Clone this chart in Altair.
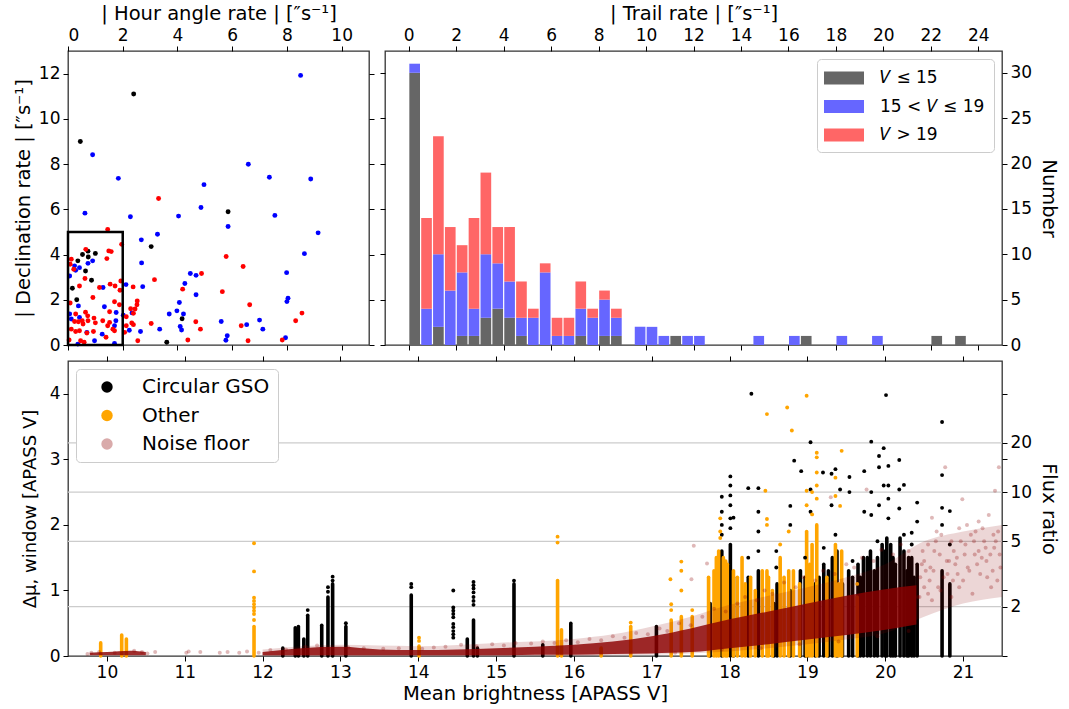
import math
import altair as alt
import pandas as pd

FONT = "DejaVu Sans"
FS = 17
TFS = 19.5

# ---------------- top-left: hour-angle rate vs declination rate ----------------
black_ha = [2.4, 0.45, 5.85, 3.04, 4.17, 3.61, 0.53, 0.73, 1.0, 0.36, 0.74, 0.64, 0.86, 0.16, 0.32]
black_dec = [11.1, 9.0, 5.89, 4.35, 1.16, 0.12, 4.0, 4.15, 4.05, 3.72, 3.89, 3.27, 2.86, 2.51, 2.0]

blue_ha = [8.5, 0.9, 1.84, 6.59, 7.36, 8.87, 4.97, 0.62, 2.28, 4.04, 4.86, 7.56, 5.85, 9.14, 3.27, 2.68,
           8.64, 2.69, 4.47, 4.68, 7.99, 4.27, 2.73, 2.12, 4.68, 4.07, 8.04, 8.0, 3.70, 3.98, 4.22, 2.34,
           2.02, 4.10, 4.15, 3.35, 2.24, 2.65, 5.6, 6.53, 7.0, 7.12, 5.82, 5.77, 7.95, 0.06, 0.24, 0.42,
           0.28, 0.9, 0.73, 0.38, 1.28, 1.33, 1.76, 1.75, 1.70, 1.25, 0.97, 0.06, 0.12, 0.42, 0.69, 1.70, 0.36]
blue_dec = [11.92, 8.41, 7.37, 7.99, 7.42, 7.34, 7.09, 5.83, 5.67, 5.70, 6.08, 5.73, 5.24, 4.96, 4.90, 4.65,
            4.04, 3.63, 3.16, 3.08, 3.20, 2.72, 2.58, 2.67, 2.22, 1.88, 2.07, 1.92, 1.37, 1.51, 1.37, 1.42,
            1.32, 0.82, 0.66, 0.70, 0.65, 0.60, 1.04, 0.90, 1.10, 0.70, 0.41, 0.21, 0.32, 3.05, 3.5, 3.42,
            3.3, 3.72, 3.61, 1.73, 2.54, 1.69, 1.44, 1.07, 0.85, 0.48, 0.19, 1.37, 1.15, 1.22, 0.56, 0.07, 0.04]

red_ha = [3.31, 1.45, 1.96, 0.65, 1.49, 1.58, 1.42, 0.12, 0.08, 0.21, 0.62, 0.42, 1.15, 1.54, 1.72, 1.90,
          1.93, 0.91, 0.08, 1.70, 1.88, 1.52, 0.64, 0.72, 0.95, 0.28, 0.52, 0.24, 0.38, 0.55, 0.73, 1.0,
          1.27, 1.52, 1.70, 0.12, 0.28, 0.42, 0.69, 0.93, 1.45, 1.64, 0.46, 0.59, 0.04, 1.39,
          3.16, 2.38, 2.29, 2.45, 2.39, 2.53, 2.52, 2.13, 2.13, 2.07, 2.33, 2.39, 3.04, 2.55, 4.38, 4.67,
          4.84, 4.88, 4.19, 5.64, 5.78, 6.4, 6.64, 6.33, 6.58, 7.83, 8.32, 8.55]
red_dec = [6.48, 5.11, 4.45, 4.23, 4.16, 4.13, 3.82, 3.79, 3.57, 3.35, 2.94, 2.61, 2.54, 2.69, 2.61, 2.42,
           2.83, 2.1, 1.86, 1.91, 1.78, 1.47, 1.45, 1.29, 1.19, 1.37, 1.07, 1.04, 1.03, 0.93, 1.07, 0.98,
           1.07, 1.0, 0.63, 0.7, 0.6, 0.63, 0.53, 0.6, 0.85, 0.7, 0.19, 0.12, 0.22, 0.34,
           2.89, 2.57, 1.60, 1.59, 1.40, 1.95, 1.78, 1.25, 0.85, 0.56, 0.97, 0.90, 0.95, 0.19, 0.22, 1.03,
           0.70, 3.16, 2.47, 2.36, 3.91, 3.47, 1.78, 0.85, 0.19, 0.22, 1.07, 1.41]

box_x = [0.0, 2.0]
box_y = [0.0, 5.0]

# ---------------- top-right: stacked histogram of trail rate ----------------
bin_width = 0.5
cnt_bright = [30, 0, 2, 0, 1, 1, 3, 4, 3, 1, 0, 0, 0, 0, 1, 0, 1, 1, 0, 0, 0, 0, 1, 0, 0,
              0, 0, 0, 0, 0, 0, 0, 0, 1, 0, 0, 0, 0, 0, 0, 0, 0, 0, 0, 1, 0, 1, 0, 0, 0]
cnt_mid = [1, 4, 8, 6, 7, 3, 7, 5, 4, 2, 3, 8, 1, 1, 3, 3, 4, 2, 0, 2, 2, 1, 0, 1, 1,
           0, 0, 0, 0, 1, 0, 0, 1, 0, 0, 0, 1, 0, 0, 1, 0, 0, 0, 0, 0, 0, 0, 0, 0, 0]
cnt_faint = [0, 10, 13, 7, 3, 10, 9, 4, 6, 4, 1, 1, 2, 2, 3, 1, 1, 1, 0, 0, 0, 0, 0, 0, 0,
             0, 0, 0, 0, 0, 0, 0, 0, 0, 0, 0, 0, 0, 0, 0, 0, 0, 0, 0, 0, 0, 0, 0, 0, 0]
hist_cats = ["𝑉 ≤ 15", "15 < 𝑉 ≤ 19", "𝑉 > 19"]
hist_colors = ["#666666", "#6666ff", "#ff6666"]

# ---------------- bottom: variability vs mean brightness ----------------
gso_col_x = [12.26, 12.42, 12.46, 12.53, 12.58, 12.76, 12.84, 12.9, 13.07, 13.91, 14.63, 14.71, 14.76, 15.23,
             15.6, 15.96, 17.06, 17.75, 17.9, 18.01, 18.05, 18.24, 18.37, 18.57, 18.61, 18.78, 18.91, 18.97,
             19.1, 19.21, 19.32, 19.38, 19.53, 19.58, 19.72, 19.81, 19.9, 19.96, 20.02, 20.07, 20.19, 20.24,
             20.34, 20.41, 20.73, 20.83,
             19.0, 19.15, 19.27, 19.45, 19.65, 19.68, 19.77, 19.86, 20.0, 20.1, 20.13, 20.28, 20.3, 20.37]
gso_col_top = [0.12, 0.43, 0.45, 0.26, 0.62, 0.47, 0.9, 1.1, 0.45, 0.93, 0.26, 0.55, 0.12, 1.1,
               0.17, 0.5, 0.45, 0.8, 1.6, 1.7, 1.2, 1.2, 1.3, 0.8, 1.1, 1.0, 1.3, 1.2,
               1.1, 1.4, 1.5, 1.6, 1.3, 1.2, 1.5, 1.6, 1.5, 1.7, 1.8, 1.7, 1.8, 1.6,
               1.5, 1.4, 1.3, 1.1,
               1.0, 1.2, 1.3, 1.1, 1.4, 1.2, 1.5, 1.3, 1.6, 1.5, 1.4, 1.3, 1.5, 1.2]
gso_pt_x = [14.45, 14.45, 14.45, 14.45, 14.45, 14.45, 14.45, 14.45, 14.45, 14.45,
            14.71, 14.71, 14.71, 14.71, 14.71, 14.71, 14.71, 12.58, 12.9, 12.9, 12.84, 12.84,
            13.91, 13.91, 13.07, 15.23, 17.9, 17.9, 17.9, 17.9, 18.01, 18.01, 18.01, 18.01, 18.01,
            18.01, 18.05, 18.24, 18.28, 18.37, 18.37, 18.37, 18.6, 18.78, 18.78, 18.83, 18.92,
            19.04, 19.04, 19.04, 19.2, 19.31, 19.31, 19.36, 19.42, 19.54, 19.54, 19.73, 19.73,
            19.82, 19.82, 19.82, 19.92, 19.92, 19.92, 19.98, 19.98, 20.01, 20.04, 20.04, 20.04,
            20.04, 20.18, 20.18, 20.18, 20.24, 20.34, 20.41, 20.41, 20.73, 20.73, 20.73, 20.73,
            20.83, 20.83, 18.24, 18.37, 18.6, 18.97, 19.21, 19.36, 19.58, 19.9, 20.24, 20.34]
gso_pt_y = [1.0, 0.74, 0.69, 0.64, 0.59, 0.49, 0.44, 0.38, 0.33, 0.28,
            1.13, 1.08, 1.03, 0.97, 0.9, 0.84, 0.78, 0.7, 1.21, 1.15, 1.05, 0.98,
            1.1, 1.05, 0.5, 1.15, 2.43, 2.2, 2.0, 1.85, 2.74, 2.6, 2.45, 2.3, 2.1, 1.95,
            2.11, 2.56, 4.0, 2.56, 2.2, 1.9, 1.6, 2.29, 2.0, 2.98, 2.82,
            3.26, 2.54, 2.2, 2.8, 2.78, 2.3, 2.85, 2.54, 2.73, 2.5, 2.82, 2.2,
            3.27, 2.5, 2.15, 2.88, 3.05, 2.3, 3.17, 2.6, 3.98, 2.9, 2.6, 2.4,
            2.1, 2.99, 2.54, 2.25, 2.61, 1.88, 2.34, 2.05, 3.57, 2.76, 2.26, 2.0,
            2.21, 1.7, 1.5, 1.6, 1.35, 1.5, 1.65, 1.85, 1.45, 1.75, 1.85, 1.7]

oth_col_x = [9.92, 10.19, 10.25, 11.89, 14.01, 15.79, 15.84, 16.35, 16.73, 17.25, 17.38, 17.52, 17.73,
             17.86, 17.92, 17.97, 18.05, 18.16, 18.27, 18.33, 18.42, 18.48, 18.5, 18.65, 18.7, 18.76, 18.82,
             18.9, 18.99, 19.06, 19.12, 19.25, 19.36, 19.44, 19.64,
             17.8, 17.83, 17.95, 18.1, 18.2, 18.55, 19.03, 19.4]
oth_col_top = [0.2, 0.32, 0.26, 0.45, 0.15, 1.15, 0.4, 0.12, 0.45, 0.55, 0.6, 0.6, 1.2,
               1.6, 1.5, 1.4, 1.3, 1.5, 1.2, 1.0, 1.3, 1.3, 1.2, 1.5, 1.2, 1.3, 1.3,
               1.1, 1.9, 1.7, 2.0, 1.2, 1.7, 1.6, 0.9,
               1.3, 1.5, 1.45, 1.2, 1.1, 1.0, 1.4, 1.1]
oth_pt_x = [11.89, 11.89, 11.89, 11.89, 11.89, 11.89, 11.89, 11.89, 11.89, 14.01, 14.01, 15.79, 15.79,
            16.73, 17.24, 17.25, 17.25, 17.38, 17.38, 17.38, 17.52, 17.88, 17.88, 17.88, 18.46, 18.48,
            18.48, 18.48, 18.74, 18.8, 18.99, 18.99, 18.99, 19.06, 19.06, 19.12, 19.12, 19.12, 19.12,
            19.12, 19.36, 19.36, 19.44, 19.42, 18.76, 18.65, 19.64]
oth_pt_y = [1.72, 1.29, 0.89, 0.84, 0.79, 0.74, 0.69, 0.64, 0.55, 0.28, 0.23, 1.82, 1.73,
            0.51, 1.17, 0.79, 0.7, 1.44, 1.3, 1.0, 0.7, 2.1, 1.9, 1.8, 2.52, 3.69,
            2.09, 2.0, 3.79, 3.44, 3.97, 2.52, 2.3, 2.5, 2.16, 3.1, 3.03, 2.8, 2.6,
            2.4, 2.72, 2.44, 3.13, 2.29, 1.9, 1.7, 1.1]

# dense core of the noise floor (two stretches)
noise_seg = ["a", "a", "a", "a"] + ["b"] * 18
noise_x = [9.78, 10.0, 10.3, 10.5,
           12.0, 12.5, 13.0, 13.5, 14.0, 14.5, 15.0, 15.5, 16.0, 16.5, 17.0, 17.5, 18.0, 18.5, 19.0, 19.5,
           20.0, 20.4]
noise_lo = [0.01, 0.01, 0.01, 0.01,
            0.01, 0.01, 0.01, 0.01, 0.01, 0.01, 0.01, 0.02, 0.02, 0.03, 0.04, 0.06, 0.12, 0.18, 0.25, 0.32,
            0.4, 0.48]
noise_hi = [0.05, 0.06, 0.08, 0.06,
            0.06, 0.12, 0.14, 0.1, 0.09, 0.1, 0.12, 0.14, 0.17, 0.22, 0.3, 0.42, 0.56, 0.68, 0.8, 0.92,
            1.02, 1.08]
# fainter halo around the core
halo_x = [12.0, 13.0, 14.0, 15.0, 16.0, 16.5, 17.0, 17.5, 18.0, 18.5, 19.0, 19.5, 20.0, 20.5, 21.0, 21.5]
halo_lo = [0.0, 0.0, 0.0, 0.0, 0.0, 0.01, 0.02, 0.04, 0.07, 0.12, 0.18, 0.25, 0.35, 0.6, 0.8, 0.9]
halo_hi = [0.1, 0.17, 0.15, 0.2, 0.26, 0.33, 0.45, 0.6, 0.78, 0.92, 1.05, 1.2, 1.4, 1.75, 1.9, 2.0]
# scattered noise-floor points
noise_pt_x = [9.75, 9.8, 9.9, 10.1, 10.35, 10.45, 10.52, 10.62, 11.02, 11.05, 11.2, 11.45, 11.55, 11.7,
              11.8, 11.95, 12.1, 12.3, 12.55, 12.7, 13.1, 13.3, 13.55, 13.75, 14.05, 14.2, 14.35, 14.55,
              14.75, 14.95, 15.1, 15.25, 15.45, 15.6, 15.75, 15.9, 16.05, 16.2, 16.35, 16.5, 16.65, 16.8,
              16.95, 17.1, 17.2, 17.35, 17.5, 17.54, 17.51, 17.71, 17.65, 17.8, 17.95, 18.1, 18.2, 18.35,
              18.45, 18.55, 18.7, 18.85, 18.95, 19.1, 19.2, 19.3, 19.35, 19.5, 19.6, 19.76, 19.7, 19.85,
              19.95, 20.1, 20.2, 20.3, 17.3, 17.9, 18.4, 18.9, 19.4, 19.9, 20.3,
              20.45, 20.5, 20.55, 20.55, 20.6, 20.62, 20.68, 20.7, 20.72, 20.77, 20.8, 20.85, 20.88, 20.9,
              20.95, 20.99, 21.0, 21.03, 21.06, 21.1, 21.12, 21.15, 21.2, 21.22, 21.27, 21.3, 21.33, 21.36,
              21.4, 21.41, 21.45, 21.46, 21.48, 20.5, 20.65, 20.95, 21.2, 21.38, 20.75, 21.05, 20.6, 20.85,
              21.25, 21.42, 20.48, 20.42, 20.58, 20.92, 21.18, 21.35,
              20.44, 20.52, 20.63, 20.71, 20.79, 20.87, 20.97, 21.08, 21.16, 21.24, 21.31, 21.39, 21.47,
              20.47, 20.57, 20.66, 20.82, 20.93, 21.02, 21.14, 21.29, 21.44]
noise_pt_y = [0.03, 0.05, 0.06, 0.05, 0.08, 0.06, 0.04, 0.06, 0.05, 0.07, 0.06, 0.05, 0.06, 0.05,
              0.07, 0.05, 0.09, 0.1, 0.14, 0.16, 0.13, 0.12, 0.11, 0.12, 0.11, 0.13, 0.14, 0.17,
              0.15, 0.18, 0.16, 0.2, 0.19, 0.22, 0.2, 0.24, 0.21, 0.26, 0.24, 0.3, 0.28, 0.35,
              0.33, 0.42, 0.38, 0.5, 0.47, 1.68, 1.17, 1.41, 0.6, 0.72, 0.68, 0.8, 0.9, 0.85,
              1.0, 0.95, 1.12, 1.05, 1.2, 1.15, 1.3, 2.42, 1.25, 1.4, 1.35, 2.54, 1.5, 1.45,
              1.62, 1.55, 1.7, 1.6, 0.05, 0.1, 0.12, 0.18, 0.22, 0.3, 0.38,
              1.2, 1.45, 0.95, 1.7, 2.11, 1.3, 1.05, 1.55, 1.85, 2.88, 1.25, 0.9, 1.6, 1.4,
              1.95, 2.39, 1.15, 1.7, 1.35, 1.85, 0.95, 1.55, 2.05, 1.25, 1.75, 1.45, 2.15, 1.05,
              1.65, 2.52, 1.9, 2.88, 1.35, 1.05, 1.75, 1.05, 1.6, 1.3, 1.2, 2.0, 0.85, 1.75,
              1.95, 1.75, 1.6, 0.9, 1.35, 1.5, 1.4, 1.55,
              0.9, 1.3, 1.6, 1.0, 1.45, 1.15, 1.75, 1.3, 1.9, 1.5, 1.2, 1.85, 1.55,
              1.4, 1.15, 1.9, 1.45, 1.25, 1.55, 1.75, 1.65, 1.15]

bottom_cats = ["Circular GSO", "Other", "Noise floor"]
bottom_colors = ["#000000", "#ffa500", "#d9aaaa"]
flux_ratio_ticks = [2, 5, 10, 20]

# ======================= build charts =======================
axis_common = dict(labelFont=FONT, titleFont=FONT, labelFontSize=FS, titleFontSize=TFS,
                   titleFontWeight="normal", tickColor="black", labelColor="black", titleColor="black",
                   domain=False, grid=False, tickSize=5)

# ---- top-left
sc_df = pd.DataFrame({
    "ha": black_ha + blue_ha + red_ha,
    "dec": black_dec + blue_dec + red_dec,
    "grp": ["k"] * len(black_ha) + ["b"] * len(blue_ha) + ["r"] * len(red_ha),
})
box_df = pd.DataFrame({"x0": [box_x[0]], "x1": [box_x[1]], "y0": [box_y[0]], "y1": [box_y[1]]})
xs_a = alt.Scale(domain=[0, 11], nice=False, zero=False)
ys_a = alt.Scale(domain=[0, 13], nice=False, zero=False)

pts_a = alt.Chart(sc_df).mark_circle(size=24, opacity=1).encode(
    x=alt.X("ha:Q", scale=xs_a, axis=alt.Axis(orient="top", values=[0, 2, 4, 6, 8, 10],
                                               title="| Hour angle rate |  [″s⁻¹]", titlePadding=3,
                                               labelPadding=2)),
    y=alt.Y("dec:Q", scale=ys_a, axis=alt.Axis(orient="left", values=[0, 2, 4, 6, 8, 10, 12],
                                                title="| Declination rate |  [″s⁻¹]", titlePadding=5,
                                                labelPadding=3)),
    color=alt.Color("grp:N", scale=alt.Scale(domain=["k", "b", "r"], range=["#000000", "#0000ff", "#ff0000"]),
                    legend=None),
)
box_a = alt.Chart(box_df).mark_rect(fillOpacity=0, stroke="black", strokeWidth=2.5).encode(
    x=alt.X("x0:Q", scale=xs_a, axis=alt.Axis(orient="bottom", values=[0, 2, 4, 6, 8, 10], labels=False,
                                               title=None)),
    x2="x1:Q",
    y=alt.Y("y0:Q", scale=ys_a, axis=alt.Axis(orient="right", values=[0, 2, 4, 6, 8, 10, 12], labels=False,
                                               title=None)),
    y2="y1:Q",
)
tl = alt.layer(pts_a, box_a).resolve_axis(x="independent", y="independent").properties(width=301, height=294)

# ---- top-right (stack the three classes bin by bin)
rows = []
for i in range(len(cnt_bright)):
    lo = i * bin_width
    base = 0
    for k, arr in enumerate([cnt_bright, cnt_mid, cnt_faint]):
        rows.append({"lo": lo, "hi": lo + bin_width, "cat": hist_cats[k], "y0": base,
                     "y1": base + arr[i], "ord": k})
        base += arr[i]
hist_df = pd.DataFrame(rows)
xs_b = alt.Scale(domain=[-1, 25], nice=False, zero=False)
ys_b = alt.Scale(domain=[0, 32.4], nice=False)
sym_rect = "M-2,-0.66H2V0.66H-2Z"
bars = alt.Chart(hist_df).mark_bar(xOffset=0.6, x2Offset=-0.6).encode(
    x=alt.X("lo:Q", scale=xs_b, axis=alt.Axis(orient="top", values=list(range(0, 25, 2)),
                                              title="| Trail rate |  [″s⁻¹]", titlePadding=3, labelPadding=2)),
    x2="hi:Q",
    y=alt.Y("y1:Q", scale=ys_b,
            axis=alt.Axis(orient="right", values=[0, 5, 10, 15, 20, 25, 30], title="Number",
                          titlePadding=7, labelPadding=3)),
    y2="y0:Q",
    color=alt.Color("cat:N", sort=hist_cats,
                    scale=alt.Scale(domain=hist_cats, range=hist_colors),
                    legend=alt.Legend(title=None, orient="top-right", offset=8, padding=9,
                                      fillColor="white", strokeColor="#cccccc", cornerRadius=4,
                                      symbolType=sym_rect, symbolSize=400, symbolStrokeWidth=0,
                                      symbolOpacity=1, symbolOffset=8, labelFont=FONT, labelFontSize=FS,
                                      labelColor="black", labelOffset=26, rowPadding=10.5)),
)
tick_b = alt.Chart(box_df).mark_point(opacity=0).encode(
    x=alt.X("x0:Q", scale=xs_b, axis=alt.Axis(orient="bottom", values=list(range(0, 25, 2)), labels=False,
                                               title=None)),
    y=alt.Y("y0:Q", scale=ys_b, axis=alt.Axis(orient="left", values=[0, 5, 10, 15, 20, 25, 30],
                                               labels=False, title=None)),
)
tr = alt.layer(bars, tick_b).resolve_axis(x="independent", y="independent").properties(width=617, height=294)

# ---- bottom
xs_c = alt.Scale(domain=[9.5, 21.5], nice=False, zero=False)
ys_c = alt.Scale(domain=[0, 4.5], nice=False, zero=False)
flux_pos = [2.5 * math.log10(f) for f in flux_ratio_ticks]
grid_df = pd.DataFrame({"d": flux_pos, "f": flux_ratio_ticks})
right_vals = [0, 1, 2, 3, 4] + flux_pos
label_expr = ("abs(datum.value - round(datum.value)) < 0.001 ? '' : "
              "format(pow(10, datum.value / 2.5), '.0f')")

grid_c = alt.Chart(grid_df).mark_rule(color="#cccccc", strokeWidth=1.3).encode(
    y=alt.Y("d:Q", scale=ys_c, axis=alt.Axis(orient="right", values=right_vals, labelExpr=label_expr,
                                             title="Flux ratio", titlePadding=7, labelPadding=3)),
)
gso_cols_df = pd.DataFrame({"x": gso_col_x, "top": gso_col_top})
oth_cols_df = pd.DataFrame({"x": oth_col_x, "top": oth_col_top})
gso_cols = alt.Chart(gso_cols_df).mark_rule(color="black", strokeWidth=3.6, strokeCap="round").encode(
    x=alt.X("x:Q", scale=xs_c, axis=alt.Axis(orient="bottom", values=list(range(10, 22)),
                                             title="Mean brightness [APASS V]", titlePadding=4,
                                             labelPadding=3)),
    y=alt.Y("top:Q", scale=ys_c, axis=alt.Axis(orient="left", values=[0, 1, 2, 3, 4],
                                               title="Δμ, window [APASS V]", titlePadding=10,
                                               labelPadding=3, titleFontSize=18)),
    y2=alt.datum(0),
)
oth_cols = alt.Chart(oth_cols_df).mark_rule(color="#ffa500", strokeWidth=3.6, strokeCap="round").encode(
    x=alt.X("x:Q", scale=xs_c, axis=alt.Axis(orient="top", values=list(range(10, 22)), labels=False,
                                             title=None)),
    y=alt.Y("top:Q", scale=ys_c, axis=None),
    y2=alt.datum(0),
)
pts_df = pd.DataFrame({
    "x": gso_pt_x + oth_pt_x,
    "y": gso_pt_y + oth_pt_y,
    "cat": ["Circular GSO"] * len(gso_pt_x) + ["Other"] * len(oth_pt_x),
})
pts_c = alt.Chart(pts_df).mark_circle(size=15, opacity=1).encode(
    x=alt.X("x:Q", scale=xs_c, axis=None),
    y=alt.Y("y:Q", scale=ys_c, axis=None),
    color=alt.Color("cat:N", sort=bottom_cats, scale=alt.Scale(domain=bottom_cats, range=bottom_colors),
                    legend=alt.Legend(title=None, orient="top-left", offset=8, padding=8,
                                      fillColor="white", strokeColor="#cccccc", cornerRadius=4,
                                      symbolType="circle", symbolSize=130, symbolStrokeWidth=0,
                                      symbolOpacity=1, symbolOffset=13, labelFont=FONT, labelFontSize=20,
                                      labelColor="black", labelOffset=25, rowPadding=8.5)),
)
halo_df = pd.DataFrame({"x": halo_x, "lo": halo_lo, "hi": halo_hi})
halo = alt.Chart(halo_df).mark_area(color="#8b0000", opacity=0.16, interpolate="monotone").encode(
    x=alt.X("x:Q", scale=xs_c, axis=None),
    y=alt.Y("hi:Q", scale=ys_c, axis=None),
    y2="lo:Q",
)
band_df = pd.DataFrame({"seg": noise_seg, "x": noise_x, "lo": noise_lo, "hi": noise_hi})
band = alt.Chart(band_df).mark_area(color="#8b0000", opacity=0.82, interpolate="monotone").encode(
    x=alt.X("x:Q", scale=xs_c, axis=None),
    y=alt.Y("hi:Q", scale=ys_c, axis=None),
    y2="lo:Q",
    detail="seg:N",
)
npts_df = pd.DataFrame({"x": noise_pt_x, "y": noise_pt_y})
npts = alt.Chart(npts_df).mark_circle(color="#8b0000", opacity=0.28, size=16).encode(
    x=alt.X("x:Q", scale=xs_c, axis=None),
    y=alt.Y("y:Q", scale=ys_c, axis=None),
)
bottom = alt.layer(grid_c, gso_cols, oth_cols, pts_c, halo, band, npts).resolve_axis(
    x="independent", y="independent").properties(width=934, height=295)

top = alt.hconcat(tl, tr, spacing=16, bounds="flush").resolve_scale(
    x="independent", y="independent", color="independent")
chart = alt.vconcat(top, bottom, spacing=0).resolve_scale(
    x="independent", y="independent", color="independent").properties(
    padding={"left": 12, "top": 2, "right": 6, "bottom": 2}
).configure(font=FONT).configure_axis(**axis_common).configure_view(stroke="#333333", strokeWidth=1.3)

chart.save("out.html", embed_options={"renderer": "svg", "actions": False})
